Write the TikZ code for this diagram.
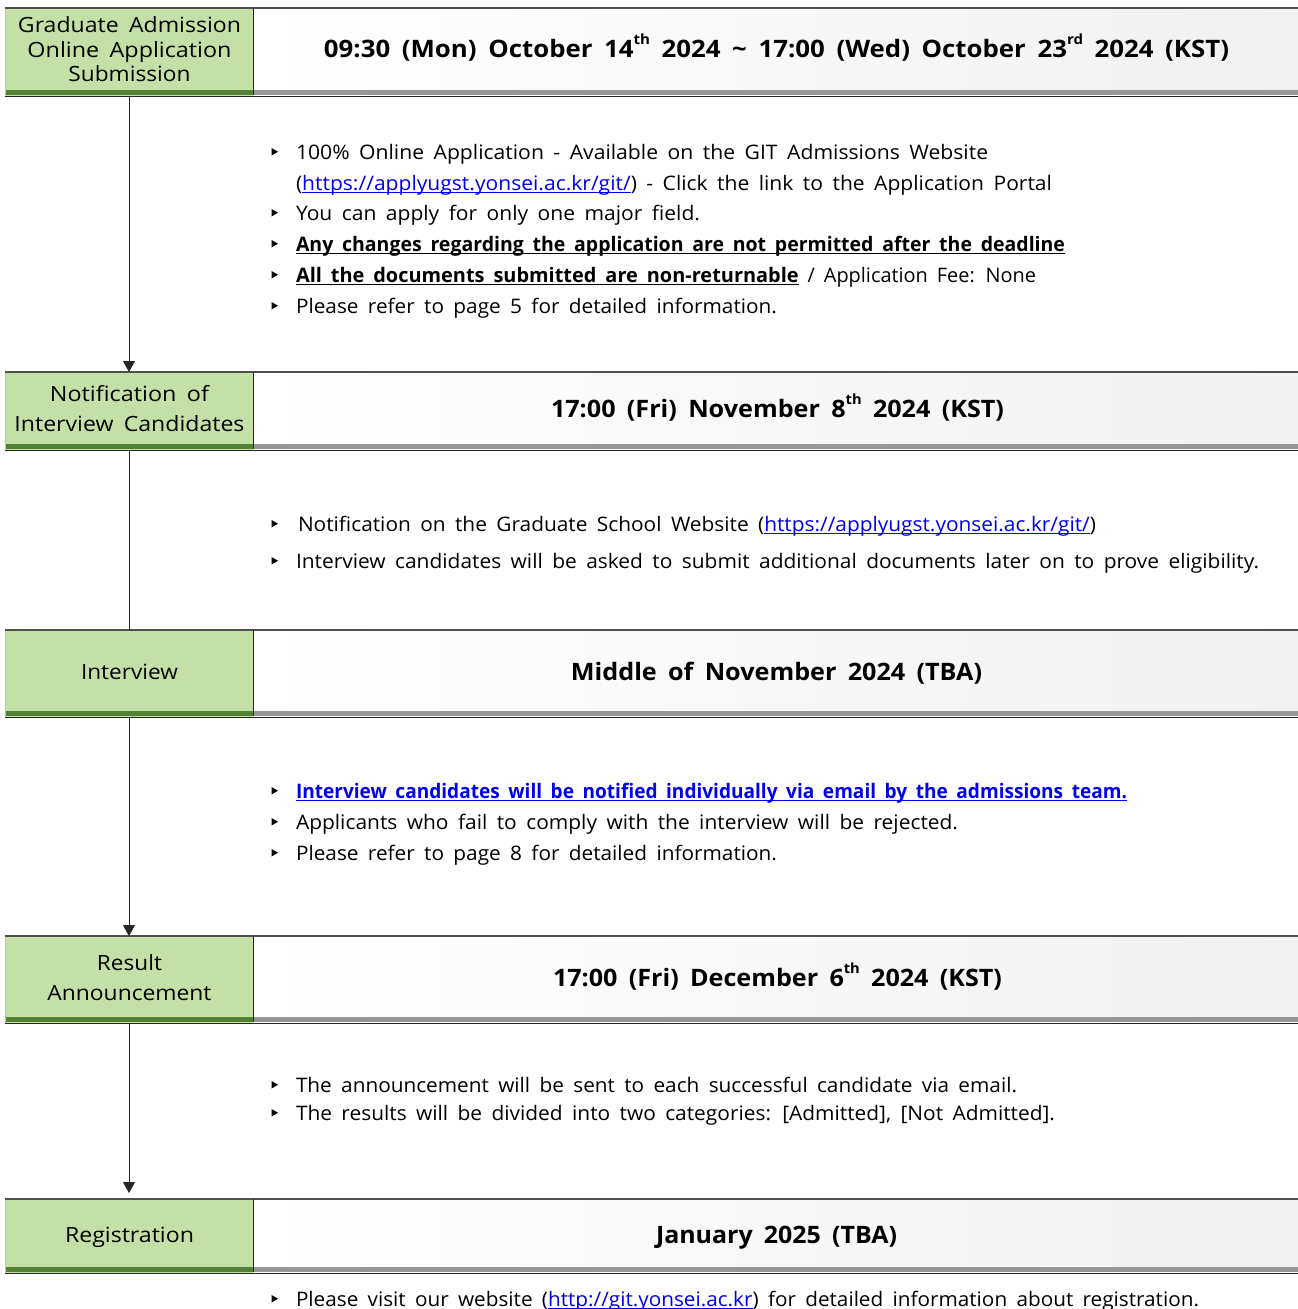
\documentclass[tikz,border=0pt]{standalone}
\usepackage{fontspec}
\setmainfont{Open Sans}
\usepackage{graphicx}
\usetikzlibrary{arrows.meta}
\definecolor{boxgreen}{RGB}{197,224,166}
\definecolor{bandgreen}{RGB}{84,130,53}
\definecolor{bandgray}{RGB}{150,150,150}
\definecolor{bordergray}{RGB}{80,80,80}
\definecolor{rightgray}{RGB}{241,241,241}
\definecolor{linkblue}{RGB}{0,0,238}
\newcommand\fitw[2]{\resizebox{#1pt}{\height}{#2}}
\newcommand\sups[1]{\raisebox{0.55em}{\fontsize{14}{14}\selectfont #1}}
\newsavebox\ulbox
\newcommand\ulx[1]{\sbox\ulbox{#1}\rlap{\rule[-2.6pt]{\wd\ulbox}{1.1pt}}\usebox\ulbox}
\newcommand\bul[1]{\fill (271.5,{#1-11}) -- (271.5,{#1-3.5}) -- (278,{#1-7.25}) -- cycle;}
\newcommand\steprow[3]{%
  \pgfmathsetmacro\rh{#3-#2}\pgfmathsetmacro\rc{(#2+#3)/2}%
  \shade[left color=white,right color=rightgray] (253,#2) rectangle (1298,{#3-5});
  \fill[bandgray] (253,{#3-6}) rectangle (1298,{#3-1});
  \node[leftbox,minimum height=\rh pt] (#1) at (129,\rc) {};
  \fill[bandgreen] (5,{#3-6}) rectangle (253,{#3-1});
  \draw[gray!50,line width=0.8pt] (5,#2) -- (5,#3);
  \draw[line width=1.6pt,bordergray] (5,#2) -- (1298,#2);
  \draw[line width=1pt,black!85] (5,#3) -- (1298,#3);
  \draw[line width=0.8pt,black!85] (253,#2) -- (253,{#3-1});
}
\tikzset{
  leftbox/.style={rectangle,fill=boxgreen,draw=none,minimum width=248pt,inner sep=0pt,outer sep=0pt},
  body/.style={anchor=base west,inner sep=0pt,outer sep=0pt,font={\fontsize{20}{24}\selectfont\spaceskip=0.45em\relax}},
  hdr/.style={anchor=base,inner sep=0pt,outer sep=0pt,font={\fontsize{24}{28}\selectfont\bfseries\spaceskip=0.45em\relax}},
  lbl/.style={anchor=base,inner sep=0pt,outer sep=0pt,font={\fontsize{21}{25}\selectfont\spaceskip=0.45em\relax}},
  conn/.style={line width=1pt,black!85},
  tip/.style={-{Triangle[width=12pt,length=11pt]}}
}
\begin{document}
\begin{tikzpicture}[x=1pt,y=-1pt]
\useasboundingbox (0,0) rectangle (1298,1309);
\fill[white] (0,0) rectangle (1298,1309);
\steprow{h1}{8}{96}
\steprow{h2}{372}{450}
\steprow{h3}{630}{717}
\steprow{h4}{936}{1023}
\steprow{h5}{1199}{1273}
\coordinate (c5) at (129,1193);
% connectors
\draw[conn,tip] (h1.south) -- (h2.north);
\draw[conn] (h2.south) -- (h3.north);
\draw[conn,tip] (h3.south) -- (h4.north);
\draw[conn,tip] (h4.south) -- (c5);
% left labels
\node[lbl] (l1a) at (129.5,32.5) {\fitw{223}{Graduate Admission}};
\node[lbl] (l1b) at (129.5,57.5) {\fitw{204}{Online Application}};
\node[lbl] (l1c) at (129.5,81.5) {\fitw{122}{Submission}};
\node[lbl] (l2a) at (129.5,401.5) {\fitw{159}{Notification of}};
\node[lbl] (l2b) at (129.5,431.5) {\fitw{230}{Interview Candidates}};
\node[lbl] (l3a) at (129.5,679.5) {\fitw{97}{Interview}};
\node[lbl] (l4a) at (129.5,970.5) {\fitw{65}{Result}};
\node[lbl] (l4b) at (129.5,1000.5) {\fitw{164}{Announcement}};
\node[lbl] (l5a) at (129.5,1242.5) {\fitw{129}{Registration}};
% header texts
\node[hdr] (t1) at (776.5,57.5) {\fitw{905}{09:30 (Mon) October 14\sups{th} 2024 \textasciitilde{} 17:00 (Wed) October 23\sups{rd} 2024 (KST)}};
\node[hdr] (t2) at (777.5,417.5) {\fitw{453}{17:00 (Fri) November 8\sups{th} 2024 (KST)}};
\node[hdr] (t3) at (776.5,680.5) {\fitw{411}{Middle of November 2024 (TBA)}};
\node[hdr] (t4) at (777.5,986.5) {\fitw{449}{17:00 (Fri) December 6\sups{th} 2024 (KST)}};
\node[hdr] (t5) at (776.5,1243.5) {\fitw{241}{January 2025 (TBA)}};
% section 1
\bul{159}\node[body] (s1a) at (296,159) {\fitw{692}{100\% Online Application - Available on the GIT Admissions Website}};
\node[body] (s1b) at (296,190) {\fitw{756}{(\textcolor{linkblue}{\ulx{https://applyugst.yonsei.ac.kr/git/}}) - Click the link to the Application Portal}};
\bul{220}\node[body] (s1c) at (296,220) {\fitw{404}{You can apply for only one major field.}};
\bul{251}\node[body] (s1d) at (296,251) {\fitw{769}{\ulx{\bfseries Any changes regarding the application are not permitted after the deadline}}};
\bul{282}\node[body] (s1e) at (296,282) {\fitw{740}{\ulx{\bfseries All the documents submitted are non-returnable} / Application Fee: None}};
\bul{313}\node[body] (s1f) at (296,313) {\fitw{481}{Please refer to page 5 for detailed information.}};
% section 2
\bul{531}\node[body] (s2a) at (298,531) {\fitw{798}{Notification on the Graduate School Website (\textcolor{linkblue}{\ulx{https://applyugst.yonsei.ac.kr/git/}})}};
\bul{568}\node[body] (s2b) at (296,568) {\fitw{963}{Interview candidates will be asked to submit additional documents later on to prove eligibility.}};
% section 3
\bul{798}\node[body] (s3a) at (296,798) {\fitw{831}{\color{linkblue}\ulx{\bfseries Interview candidates will be notified individually via email by the admissions team.}}};
\bul{829}\node[body] (s3b) at (296,829) {\fitw{662}{Applicants who fail to comply with the interview will be rejected.}};
\bul{860}\node[body] (s3c) at (296,860) {\fitw{481}{Please refer to page 8 for detailed information.}};
% section 4
\bul{1092}\node[body] (s4a) at (296,1092) {\fitw{721}{The announcement will be sent to each successful candidate via email.}};
\bul{1120}\node[body] (s4b) at (296,1120) {\fitw{759}{The results will be divided into two categories: [Admitted], [Not Admitted].}};
% section 5
\bul{1306}\node[body] (s5a) at (296,1306) {\fitw{903}{Please visit our website (\textcolor{linkblue}{\ulx{http://git.yonsei.ac.kr}}) for detailed information about registration.}};
\end{tikzpicture}
\end{document}
